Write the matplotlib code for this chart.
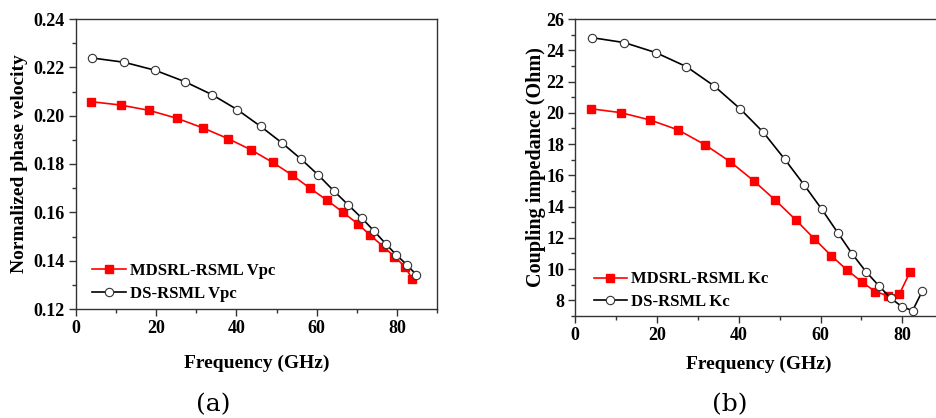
import matplotlib
matplotlib.use("Agg")
import matplotlib.pyplot as plt
from matplotlib.ticker import MultipleLocator, FormatStrFormatter

# ---- data (a) ----
freq_a_red = [3.7, 11.1, 18.2, 25.2, 31.7, 37.9, 43.6, 49.0, 53.9, 58.4, 62.6, 66.5, 70.2, 73.4, 76.6, 79.4, 82.0, 83.8]
vpc_red = [0.2058, 0.2044, 0.2022, 0.1989, 0.1949, 0.1905, 0.1859, 0.1807, 0.1754, 0.1699, 0.1650, 0.1601, 0.1553, 0.1505, 0.1458, 0.1417, 0.1375, 0.1326]
freq_a_blk = [3.9, 12.0, 19.7, 27.1, 33.9, 40.2, 46.0, 51.3, 56.0, 60.3, 64.2, 67.8, 71.2, 74.3, 77.2, 79.9, 82.5, 84.8]
vpc_blk = [0.2239, 0.2221, 0.2188, 0.2141, 0.2087, 0.2025, 0.1956, 0.1888, 0.1822, 0.1756, 0.1690, 0.1632, 0.1577, 0.1523, 0.1470, 0.1423, 0.1383, 0.1342]

# ---- data (b) ----
freq_b_red = [3.75, 11.1, 18.3, 25.2, 31.7, 37.9, 43.6, 48.8, 53.9, 58.5, 62.6, 66.5, 70.2, 73.4, 76.6, 79.3, 81.9]
kc_red = [20.26, 20.01, 19.54, 18.90, 17.96, 16.87, 15.66, 14.44, 13.16, 11.93, 10.86, 9.94, 9.16, 8.56, 8.28, 8.41, 9.82]
freq_b_blk = [4.0, 12.0, 19.7, 27.2, 34.0, 40.3, 46.0, 51.2, 56.0, 60.3, 64.3, 67.8, 71.1, 74.3, 77.2, 79.9, 82.5, 84.9]
kc_blk = [24.81, 24.49, 23.85, 22.95, 21.71, 20.26, 18.75, 17.04, 15.38, 13.83, 12.29, 10.95, 9.84, 8.92, 8.13, 7.60, 7.34, 8.60]

labels_a = ["MDSRL-RSML Vpc", "DS-RSML Vpc"]
labels_b = ["MDSRL-RSML Kc", "DS-RSML Kc"]

SERIF = ["Liberation Serif", "DejaVu Serif"]
plt.rcParams["font.family"] = SERIF
plt.rcParams["font.weight"] = "bold"

fig = plt.figure(figsize=(9.37, 4.18), dpi=100)
W, H = 937, 418

def axes_px(x0, x1, y0, y1):
    return fig.add_axes([x0 / W, (H - y1) / H, (x1 - x0) / W, (y1 - y0) / H])

ax1 = axes_px(76, 437, 19, 309)
ax2 = axes_px(575.3, 943.2, 19, 316)

red = "#ff0000"

def style(ax):
    for s in ax.spines.values():
        s.set_color("#333333")
        s.set_linewidth(1.0)
    ax.tick_params(which="both", direction="out", top=False, right=False, color="#333333",
                   labelsize=13, pad=3)
    ax.tick_params(which="major", length=5, width=1.0)
    ax.tick_params(which="minor", length=3, width=1.0)
    for t in ax.get_xticklabels() + ax.get_yticklabels():
        t.set_fontweight("bold")
    ax.xaxis.set_major_locator(MultipleLocator(20))
    ax.xaxis.set_minor_locator(MultipleLocator(10))

leg_kw = dict(loc="lower left", frameon=False, handlelength=2.0, handletextpad=0.25,
              labelspacing=0.4, borderpad=0, borderaxespad=0, prop={"weight": "bold", "size": 12})

# (a)
ax1.plot(freq_a_red, vpc_red, color=red, marker="s", ms=5.5, mfc=red, mec=red, lw=1.2, label=labels_a[0])
ax1.plot(freq_a_blk, vpc_blk, color="black", marker="o", ms=6, mfc="white", mec="#333333", mew=0.8, lw=1.2, label=labels_a[1])
ax1.set_xlim(0, 90)
ax1.set_ylim(0.12, 0.24)
ax1.yaxis.set_major_locator(MultipleLocator(0.02))
ax1.yaxis.set_minor_locator(MultipleLocator(0.01))
ax1.yaxis.set_major_formatter(FormatStrFormatter("%.2f"))
style(ax1)
ax1.set_xlabel("Frequency (GHz)", fontsize=14, fontweight="bold", labelpad=13)
ax1.set_ylabel("Normalized phase velocity", fontsize=14, fontweight="bold", labelpad=4)
ax1.legend(bbox_to_anchor=(0.045, 0.025), **leg_kw)

# (b)
ax2.plot(freq_b_red, kc_red, color=red, marker="s", ms=5.5, mfc=red, mec=red, lw=1.2, label=labels_b[0])
ax2.plot(freq_b_blk, kc_blk, color="black", marker="o", ms=6, mfc="white", mec="#333333", mew=0.8, lw=1.2, label=labels_b[1])
ax2.set_xlim(0, 90)
ax2.set_ylim(7, 26)
ax2.yaxis.set_major_locator(MultipleLocator(2))
ax2.yaxis.set_minor_locator(MultipleLocator(1))
ax2.set_yticks([8, 10, 12, 14, 16, 18, 20, 22, 24, 26])
style(ax2)
ax2.set_xlabel("Frequency (GHz)", fontsize=14, fontweight="bold", labelpad=8)
ax2.set_ylabel("Coupling impedance (Ohm)", fontsize=14.5, fontweight="bold", labelpad=0)
ax2.legend(bbox_to_anchor=(0.05, 0.02), **leg_kw)

fig.text(213 / W, 1 - 405 / H, "(a)", ha="center", va="center", fontsize=18, fontweight="normal",
         family="DejaVu Serif")
fig.text(730 / W, 1 - 405 / H, "(b)", ha="center", va="center", fontsize=18, fontweight="normal",
         family="DejaVu Serif")

fig.savefig("out.png", dpi=100)
